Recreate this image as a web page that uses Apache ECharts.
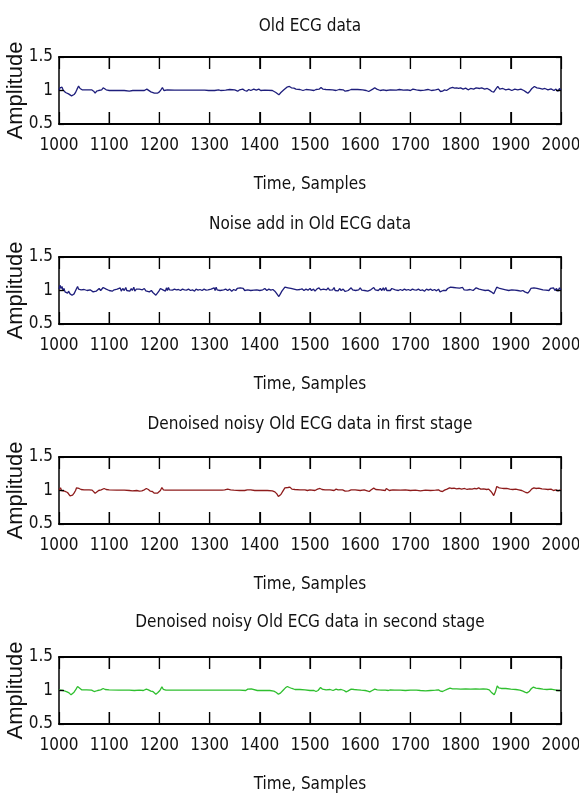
<!DOCTYPE html>
<html>
<head>
<meta charset="utf-8">
<script src="https://cdn.jsdelivr.net/npm/echarts@6/dist/echarts.min.js"></script>
<style>html,body{margin:0;padding:0;background:#fff}#c{width:579px;height:798px}</style>
</head>
<body>
<div id="c"></div>
<script>
// ---- data ----
const panelTitles = [
  'Old ECG data',
  'Noise add in Old ECG data',
  'Denoised noisy Old ECG data in first stage',
  'Denoised noisy Old ECG data in second stage'
];
const xAxisTitle = 'Time, Samples';
const yAxisTitle = 'Amplitude';
const xTickValues = [1000, 1100, 1200, 1300, 1400, 1500, 1600, 1700, 1800, 1900, 2000];
const yTickValues = [0.5, 1, 1.5];

const oldEcg = [[1000,1.0],[1002,1.04],[1004,1.02],[1006,1.05],[1008,1.01],[1010,1.0],[1013,0.97],[1016,0.98],[1019,0.95],[1022,0.96],[1025,0.92],[1027,0.9],[1030,0.94],[1033,0.97],[1036,1.02],[1039,1.065],[1042,1.03],[1046,1.01],[1055,1.01],[1065,1.01],[1069,0.99],[1072,0.96],[1075,0.99],[1079,1.0],[1085,1.01],[1088,1.04],[1091,1.035],[1094,1.01],[1100,1.0],[1115,1.0],[1130,1.0],[1140,0.99],[1143,0.985],[1147,1.0],[1160,1.0],[1170,1.0],[1175,1.02],[1178,1.0],[1183,0.98],[1186,1.0],[1190,0.96],[1193,0.935],[1196,0.96],[1200,0.98],[1203,1.01],[1206,1.045],[1209,1.0],[1212,0.99],[1216,1.01],[1230,1.005],[1250,1.005],[1270,1.005],[1290,1.005],[1298,1.0],[1300,1.01],[1310,1.0],[1318,1.01],[1322,1.0],[1332,1.005],[1340,1.015],[1343,1.0],[1350,1.01],[1356,0.99],[1360,1.01],[1366,1.02],[1370,1.0],[1374,0.99],[1378,1.015],[1382,1.0],[1388,1.02],[1393,1.005],[1398,1.02],[1402,1.0],[1410,1.005],[1425,1.0],[1432,0.97],[1438,0.935],[1442,0.97],[1448,1.01],[1454,1.05],[1459,1.06],[1463,1.04],[1468,1.035],[1472,1.02],[1480,1.015],[1486,1.0],[1492,1.015],[1500,1.01],[1508,1.0],[1512,1.015],[1518,1.02],[1522,1.045],[1526,1.02],[1532,1.015],[1545,1.01],[1552,1.0],[1558,1.015],[1566,1.01],[1570,0.99],[1573,0.98],[1577,1.0],[1582,1.015],[1595,1.015],[1605,1.01],[1612,1.0],[1617,0.985],[1620,1.0],[1625,1.02],[1629,1.04],[1633,1.02],[1640,1.0],[1646,1.01],[1652,1.0],[1660,1.01],[1672,1.005],[1678,1.015],[1686,1.005],[1694,1.01],[1700,1.0],[1705,1.02],[1712,1.01],[1720,1.0],[1728,1.005],[1735,1.015],[1742,1.0],[1750,1.01],[1756,1.02],[1760,0.985],[1764,0.99],[1768,1.01],[1772,1.0],[1778,1.03],[1784,1.045],[1788,1.035],[1792,1.04],[1796,1.03],[1800,1.04],[1805,1.02],[1810,1.035],[1815,1.01],[1820,1.03],[1826,1.02],[1831,1.04],[1834,1.06],[1838,1.03],[1842,1.04],[1848,1.02],[1853,1.03],[1858,1.01],[1862,0.985],[1866,0.975],[1870,1.02],[1874,1.06],[1878,1.02],[1884,1.03],[1890,1.01],[1896,1.02],[1902,1.0],[1908,1.02],[1914,1.01],[1920,1.02],[1926,1.0],[1930,0.98],[1934,0.96],[1938,0.99],[1942,1.03],[1947,1.06],[1952,1.04],[1958,1.03],[1963,1.02],[1968,1.03],[1974,1.01],[1980,1.025],[1986,1.0],[1990,1.02],[1994,0.99],[1997,1.03],[2000,1.0]];

const noisyEcg = [[1000,1.02],[1002,1.08],[1004,1.03],[1006,1.06],[1008,1.0],[1010,1.03],[1012,0.98],[1015,1.0],[1017,0.96],[1019,0.99],[1022,0.95],[1024,0.97],[1026,0.93],[1028,0.91],[1030,0.95],[1032,0.97],[1035,1.03],[1037,1.06],[1039,1.02],[1041,1.04],[1044,1.01],[1047,1.03],[1050,1.015],[1053,1.02],[1056,1.0],[1059,1.025],[1062,1.01],[1065,1.02],[1068,0.98],[1071,0.96],[1074,0.99],[1077,1.01],[1080,1.03],[1083,1.0],[1086,1.02],[1088,1.045],[1091,1.04],[1094,1.02],[1097,1.03],[1100,1.0],[1103,1.02],[1106,0.99],[1110,1.01],[1113,0.995],[1116,1.02],[1119,1.0],[1122,1.04],[1124,0.99],[1127,1.03],[1130,1.0],[1133,1.045],[1135,1.0],[1138,1.02],[1141,0.99],[1144,1.03],[1146,1.0],[1149,1.05],[1151,0.99],[1154,1.02],[1157,1.01],[1160,1.02],[1163,1.0],[1166,1.01],[1170,1.03],[1173,0.995],[1176,1.01],[1180,0.98],[1184,1.0],[1187,0.97],[1190,0.95],[1193,0.93],[1196,0.96],[1199,0.99],[1202,1.03],[1205,1.05],[1207,1.01],[1210,1.03],[1212,0.99],[1214,1.04],[1216,1.0],[1218,1.045],[1220,1.01],[1223,1.02],[1226,1.005],[1230,1.02],[1234,1.01],[1238,1.015],[1242,1.0],[1246,1.02],[1250,1.01],[1254,1.005],[1258,1.02],[1262,1.0],[1266,1.01],[1270,0.99],[1273,1.02],[1277,1.005],[1281,1.015],[1285,1.0],[1289,1.02],[1293,1.005],[1297,1.01],[1300,0.995],[1303,1.02],[1306,1.0],[1309,1.04],[1311,1.0],[1313,1.05],[1315,1.01],[1318,1.03],[1321,1.0],[1324,1.02],[1328,1.01],[1332,1.02],[1336,1.0],[1340,1.02],[1344,0.99],[1348,1.015],[1352,1.0],[1355,1.03],[1358,1.005],[1361,1.04],[1364,1.02],[1367,1.03],[1370,1.0],[1373,1.025],[1376,1.01],[1379,1.035],[1382,1.0],[1385,1.02],[1388,1.005],[1391,1.03],[1394,1.01],[1397,1.02],[1400,1.0],[1403,1.02],[1406,1.01],[1410,1.03],[1414,1.0],[1418,1.02],[1422,1.005],[1426,1.015],[1430,0.99],[1433,0.96],[1436,0.935],[1438,0.91],[1441,0.95],[1444,0.99],[1447,1.02],[1450,1.05],[1453,1.07],[1456,1.04],[1459,1.06],[1462,1.03],[1465,1.045],[1468,1.02],[1471,1.035],[1474,1.01],[1477,1.03],[1480,1.015],[1484,1.025],[1488,1.0],[1492,1.02],[1496,1.005],[1500,1.03],[1503,1.0],[1507,1.02],[1510,0.99],[1514,1.025],[1518,1.04],[1521,1.01],[1524,1.035],[1527,1.02],[1530,1.03],[1533,1.01],[1536,1.04],[1539,1.005],[1542,1.03],[1545,1.01],[1548,1.045],[1550,1.0],[1553,1.02],[1556,0.995],[1559,1.03],[1562,1.0],[1566,1.02],[1570,0.985],[1573,0.975],[1576,1.0],[1579,1.02],[1582,1.04],[1585,1.01],[1588,1.03],[1591,1.0],[1594,1.02],[1597,1.01],[1600,1.04],[1603,1.005],[1606,1.03],[1609,1.0],[1612,1.015],[1615,0.99],[1618,0.98],[1621,1.01],[1624,1.03],[1627,1.045],[1630,1.01],[1633,1.02],[1636,1.0],[1640,1.03],[1643,1.0],[1646,1.04],[1648,1.0],[1651,1.045],[1653,1.0],[1656,1.02],[1660,1.0],[1663,1.03],[1666,1.02],[1670,1.01],[1673,1.03],[1676,1.0],[1680,1.015],[1684,1.0],[1688,1.02],[1692,1.005],[1696,1.015],[1700,1.0],[1704,1.02],[1708,1.01],[1712,1.005],[1716,1.02],[1720,1.0],[1724,1.01],[1728,0.99],[1732,1.02],[1736,1.005],[1740,1.02],[1744,1.0],[1748,1.015],[1752,0.995],[1756,1.02],[1759,0.98],[1762,0.975],[1765,1.0],[1768,1.02],[1771,1.0],[1774,1.03],[1777,1.02],[1780,1.05],[1783,1.03],[1786,1.045],[1789,1.02],[1792,1.04],[1795,1.015],[1798,1.035],[1801,1.02],[1804,1.045],[1807,1.01],[1810,1.03],[1813,1.005],[1816,1.03],[1819,1.015],[1822,1.04],[1825,1.0],[1828,1.02],[1831,1.04],[1834,1.055],[1837,1.02],[1840,1.035],[1843,1.01],[1846,1.03],[1849,1.0],[1852,1.02],[1855,1.005],[1858,1.02],[1861,0.98],[1864,0.96],[1866,0.95],[1869,1.0],[1872,1.05],[1875,1.065],[1878,1.03],[1881,1.045],[1884,1.02],[1887,1.03],[1890,1.01],[1893,1.025],[1896,1.0],[1899,1.02],[1902,1.01],[1905,1.025],[1908,1.005],[1911,1.02],[1914,1.0],[1917,1.015],[1920,0.99],[1924,1.0],[1928,0.98],[1931,0.965],[1934,0.96],[1937,0.99],[1940,1.03],[1943,1.05],[1946,1.04],[1949,1.055],[1952,1.03],[1955,1.04],[1958,1.02],[1961,1.035],[1964,1.01],[1967,1.03],[1970,1.005],[1973,1.025],[1976,1.0],[1979,1.03],[1982,1.01],[1985,1.04],[1988,1.0],[1991,1.03],[1994,0.99],[1997,1.04],[2000,1.01]];

const firstStage = [[1000,1.01],[1003,1.04],[1005,1.0],[1008,1.02],[1011,0.99],[1014,0.98],[1017,0.97],[1020,0.95],[1022,0.92],[1024,0.9],[1027,0.93],[1030,0.96],[1033,1.0],[1035,1.04],[1037,1.06],[1040,1.03],[1044,1.015],[1050,1.01],[1060,1.01],[1066,1.005],[1069,0.98],[1072,0.96],[1075,0.985],[1079,1.0],[1084,1.01],[1087,1.035],[1090,1.03],[1094,1.015],[1100,1.01],[1115,1.005],[1130,1.005],[1140,1.0],[1146,0.995],[1155,1.0],[1160,0.99],[1165,0.995],[1170,1.01],[1174,1.03],[1178,1.015],[1182,0.99],[1186,0.985],[1190,0.96],[1193,0.935],[1196,0.96],[1199,0.98],[1202,1.0],[1205,1.045],[1208,1.01],[1212,1.005],[1220,1.005],[1240,1.005],[1260,1.005],[1280,1.005],[1300,1.005],[1325,1.005],[1330,1.01],[1333,1.03],[1336,1.02],[1339,1.03],[1342,1.01],[1348,1.005],[1360,1.0],[1370,1.0],[1375,1.01],[1378,1.025],[1382,1.01],[1390,1.0],[1400,1.0],[1415,1.0],[1425,0.995],[1430,0.98],[1434,0.95],[1437,0.91],[1439,0.9],[1442,0.94],[1446,0.99],[1450,1.04],[1453,1.06],[1456,1.045],[1460,1.05],[1464,1.02],[1470,1.015],[1480,1.01],[1490,1.01],[1495,1.0],[1500,1.01],[1510,1.0],[1515,1.02],[1520,1.03],[1524,1.015],[1530,1.01],[1540,1.01],[1548,1.0],[1552,1.02],[1556,1.01],[1565,1.01],[1570,0.99],[1573,0.975],[1577,0.995],[1582,1.01],[1590,1.01],[1600,1.0],[1608,1.01],[1614,0.995],[1618,0.985],[1622,1.01],[1627,1.035],[1631,1.015],[1640,1.01],[1650,1.0],[1652,1.03],[1655,1.02],[1658,1.0],[1665,1.01],[1680,1.005],[1690,1.01],[1700,1.0],[1710,1.005],[1720,0.995],[1730,1.005],[1740,1.0],[1750,1.005],[1756,1.01],[1760,0.99],[1764,0.985],[1768,1.005],[1773,1.02],[1778,1.04],[1782,1.03],[1787,1.035],[1792,1.025],[1797,1.03],[1802,1.02],[1808,1.03],[1813,1.015],[1818,1.025],[1823,1.02],[1828,1.03],[1832,1.025],[1836,1.04],[1840,1.02],[1846,1.025],[1852,1.015],[1856,1.02],[1860,0.99],[1863,0.96],[1866,0.925],[1869,0.98],[1872,1.06],[1874,1.085],[1877,1.04],[1881,1.035],[1886,1.03],[1892,1.03],[1898,1.02],[1904,1.015],[1910,1.02],[1916,1.01],[1922,1.0],[1926,0.985],[1930,0.97],[1934,0.965],[1938,0.99],[1942,1.025],[1946,1.04],[1950,1.03],[1956,1.035],[1962,1.025],[1968,1.02],[1974,1.015],[1980,1.02],[1985,1.0],[1990,1.01],[1994,0.995],[1997,1.02],[2000,1.01]];

const secondStage = [[1000,1.01],[1004,1.005],[1008,1.0],[1012,0.99],[1016,0.98],[1020,0.965],[1024,0.935],[1027,0.95],[1030,0.975],[1034,1.02],[1037,1.06],[1040,1.035],[1045,1.01],[1055,1.01],[1065,1.005],[1070,0.985],[1073,0.975],[1077,1.0],[1083,1.01],[1088,1.03],[1092,1.015],[1100,1.01],[1120,1.005],[1140,1.005],[1150,1.0],[1160,1.005],[1168,1.0],[1174,1.02],[1178,1.01],[1183,0.99],[1187,0.985],[1190,0.96],[1193,0.945],[1197,0.97],[1201,1.0],[1205,1.055],[1208,1.015],[1213,1.005],[1240,1.005],[1270,1.005],[1300,1.005],[1330,1.005],[1360,1.005],[1372,1.0],[1376,1.02],[1379,1.0],[1383,1.025],[1386,1.0],[1395,1.0],[1405,1.0],[1420,1.0],[1428,0.99],[1433,0.97],[1437,0.945],[1441,0.96],[1446,1.0],[1451,1.04],[1455,1.06],[1459,1.045],[1464,1.03],[1470,1.015],[1480,1.015],[1490,1.01],[1500,1.0],[1508,1.0],[1512,0.985],[1516,1.0],[1521,1.045],[1525,1.02],[1532,1.01],[1540,1.015],[1546,1.0],[1552,1.02],[1556,1.01],[1562,1.015],[1568,1.0],[1572,0.98],[1576,0.995],[1582,1.02],[1588,1.015],[1595,1.01],[1602,1.005],[1610,1.0],[1615,0.99],[1619,0.98],[1624,1.0],[1629,1.02],[1634,1.01],[1642,1.005],[1650,1.005],[1656,1.0],[1660,1.01],[1668,1.005],[1680,1.005],[1690,1.0],[1700,1.005],[1712,1.005],[1720,1.0],[1730,0.995],[1740,1.0],[1750,1.005],[1756,1.01],[1760,0.99],[1764,0.985],[1768,1.0],[1774,1.02],[1779,1.035],[1784,1.025],[1792,1.025],[1800,1.02],[1810,1.025],[1820,1.02],[1830,1.025],[1838,1.02],[1845,1.025],[1852,1.02],[1857,1.01],[1861,0.975],[1864,0.95],[1867,0.935],[1870,0.99],[1873,1.07],[1876,1.04],[1881,1.03],[1890,1.03],[1900,1.02],[1910,1.015],[1918,1.005],[1924,0.99],[1928,0.975],[1932,0.965],[1937,0.99],[1941,1.03],[1945,1.05],[1950,1.035],[1956,1.03],[1964,1.02],[1972,1.015],[1980,1.02],[1988,1.01],[1994,1.0],[2000,1.0]];

const panelData = [oldEcg, noisyEcg, firstStage, secondStage];
const panelColors = ['#1e1e7c', '#1e1e7c', '#8e1c1c', '#2fbf2f'];

// ---- layout / style ----
const NARROW = '"Liberation Sans Narrow", "DejaVu Sans Condensed", "Arial Narrow", sans-serif';
const gridTops = [57, 257, 457, 657];
const titleTops = [18, 216, 416, 614];
const GRID_LEFT = 59, GRID_W = 502, GRID_H = 67;
const X_TICK_LEN = 12, Y_TICK_LEN = 5;
const xMin = xTickValues[0], xMax = xTickValues[xTickValues.length - 1];
const xStep = xTickValues[1] - xTickValues[0];
const yMin = yTickValues[0], yMax = yTickValues[yTickValues.length - 1];
const yStep = yTickValues[1] - yTickValues[0];
const plainNum = (v) => String(Math.round(v * 10) / 10);

const grid = [], xAxis = [], yAxis = [], series = [], title = [], graphic = [];
panelData.forEach((data, k) => {
  const top = gridTops[k];
  grid.push({ left: GRID_LEFT, top: top, width: GRID_W, height: GRID_H, containLabel: false, outerBoundsMode: 'none' });
  const line = { show: true, onZero: false, lineStyle: { color: '#000', width: 2 } };
  const vline = { show: true, onZero: false, lineStyle: { color: '#000', width: 1.5 } };
  const xtick = { show: true, inside: true, length: X_TICK_LEN, lineStyle: { color: '#000', width: 1.2 } };
  const ytick = { show: true, inside: true, length: Y_TICK_LEN, lineStyle: { color: '#000', width: 1.2 } };
  xAxis.push({
    type: 'value', gridIndex: k, position: 'bottom', min: xMin, max: xMax, interval: xStep,
    axisLine: line, axisTick: xtick,
    axisLabel: { show: true, formatter: plainNum, fontFamily: NARROW, fontSize: 17, color: '#111', margin: 13 },
    splitLine: { show: false }
  });
  xAxis.push({
    type: 'value', gridIndex: k, position: 'top', min: xMin, max: xMax, interval: xStep,
    axisLine: line, axisTick: xtick, axisLabel: { show: false }, splitLine: { show: false }
  });
  yAxis.push({
    type: 'value', gridIndex: k, position: 'left', min: yMin, max: yMax, interval: yStep,
    axisLine: vline, axisTick: ytick,
    axisLabel: { show: true, formatter: plainNum, fontFamily: NARROW, fontSize: 17, color: '#111', margin: 6 },
    splitLine: { show: false }
  });
  yAxis.push({
    type: 'value', gridIndex: k, position: 'right', min: yMin, max: yMax, interval: yStep,
    axisLine: vline, axisTick: ytick, axisLabel: { show: false }, splitLine: { show: false }
  });
  series.push({
    type: 'line', xAxisIndex: 2 * k, yAxisIndex: 2 * k, data: data,
    symbol: 'none', showSymbol: false,
    lineStyle: { color: panelColors[k], width: 1.3 }
  });
  title.push({
    text: panelTitles[k], left: GRID_LEFT + GRID_W / 2, top: titleTops[k], textAlign: 'center', padding: 0,
    textStyle: { fontFamily: NARROW, fontSize: 17, fontWeight: 'normal', color: '#111' }
  });
  title.push({
    text: xAxisTitle, left: GRID_LEFT + GRID_W / 2, top: top + GRID_H + 52, textAlign: 'center', padding: 0,
    textStyle: { fontFamily: NARROW, fontSize: 17, fontWeight: 'normal', color: '#111' }
  });
  graphic.push({
    type: 'text', x: 16, y: top + GRID_H / 2, rotation: Math.PI / 2, silent: true,
    style: { text: yAxisTitle, align: 'center', verticalAlign: 'middle', font: '22px "Liberation Sans", Arial, sans-serif', fill: '#111' }
  });
});

const chart = echarts.init(document.getElementById('c'));
chart.setOption({
  animation: false,
  title, grid, xAxis, yAxis, series, graphic
});

// Inward frame ticks, placed through the axes' own scales (convertToPixel).
try {
  const tickEls = [];
  const tickStyle = { stroke: '#000', lineWidth: 1.2 };
  panelData.forEach((_, k) => {
    const top = gridTops[k], bottom = top + GRID_H;
    const left = GRID_LEFT, right = GRID_LEFT + GRID_W;
    xTickValues.slice(1, -1).forEach((v) => {
      const px = chart.convertToPixel({ xAxisIndex: 2 * k }, v);
      if (typeof px !== 'number' || !isFinite(px)) return;
      tickEls.push({ type: 'line', silent: true, z: 50, shape: { x1: px, y1: top, x2: px, y2: top + X_TICK_LEN }, style: tickStyle });
      tickEls.push({ type: 'line', silent: true, z: 50, shape: { x1: px, y1: bottom, x2: px, y2: bottom - X_TICK_LEN }, style: tickStyle });
    });
    yTickValues.slice(1, -1).forEach((v) => {
      const py = chart.convertToPixel({ yAxisIndex: 2 * k }, v);
      if (typeof py !== 'number' || !isFinite(py)) return;
      tickEls.push({ type: 'line', silent: true, z: 50, shape: { x1: left, y1: py, x2: left + Y_TICK_LEN, y2: py }, style: tickStyle });
      tickEls.push({ type: 'line', silent: true, z: 50, shape: { x1: right, y1: py, x2: right - Y_TICK_LEN, y2: py }, style: tickStyle });
    });
  });
  chart.setOption({ graphic: graphic.concat(tickEls) });
} catch (e) { /* keep the chart without extra ticks */ }
</script>
</body>
</html>
